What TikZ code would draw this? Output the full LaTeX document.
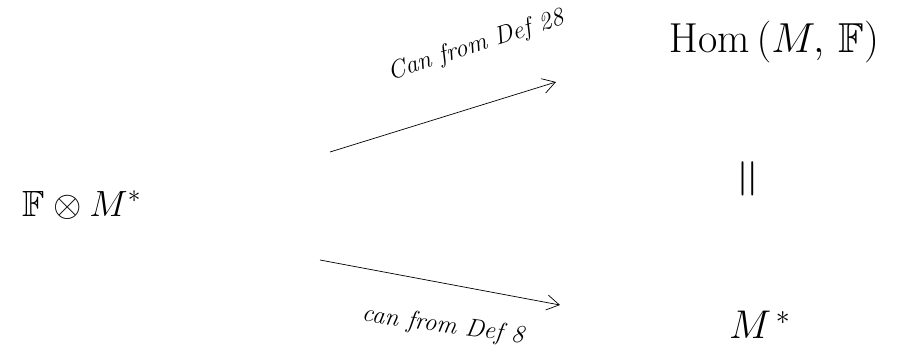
\documentclass[tikz,border=0pt]{standalone}
\usepackage{amssymb}
\usepackage{tikz}
\usetikzlibrary{arrows.meta,positioning}

\begin{document}
\begin{tikzpicture}[
  x=0.2mm, y=-0.2mm,
  >={Straight Barb[length=2.5mm, width=3mm]},
  obj/.style={font=\huge, inner sep=1pt},
  lbl/.style={font=\Large\itshape, inner sep=1pt},
  arrow/.style={->, thin, color=black}
]
\useasboundingbox (0,0) rectangle (899,354);

\node[obj] (tensor) at (82,205) {$\mathbb{F}\otimes M^{*}$};
\node[obj, scale=1.15] (hom) at (774,42) {$\mathrm{Hom}\,(M,\,\mathbb{F})$};
\node[obj, rotate=90, scale=1.5] (eq) at (752,179) {$=$};
\node[obj, scale=1.1] (dual) at (760,325) {$M^{\,*}$};

\coordinate (topstart) at (330,152);
\coordinate (topend) at (556,82);
\coordinate (botstart) at (320,260);
\coordinate (botend) at (560,305);

\draw[arrow] (topstart) -- (topend);
\draw[arrow] (botstart) -- (botend);

\node[lbl, rotate=18] (toplbl) at (476,46) {Can from Def 28};
\node[lbl, rotate=-8] (botlbl) at (443,326) {can from Def 8};

\end{tikzpicture}
\end{document}
